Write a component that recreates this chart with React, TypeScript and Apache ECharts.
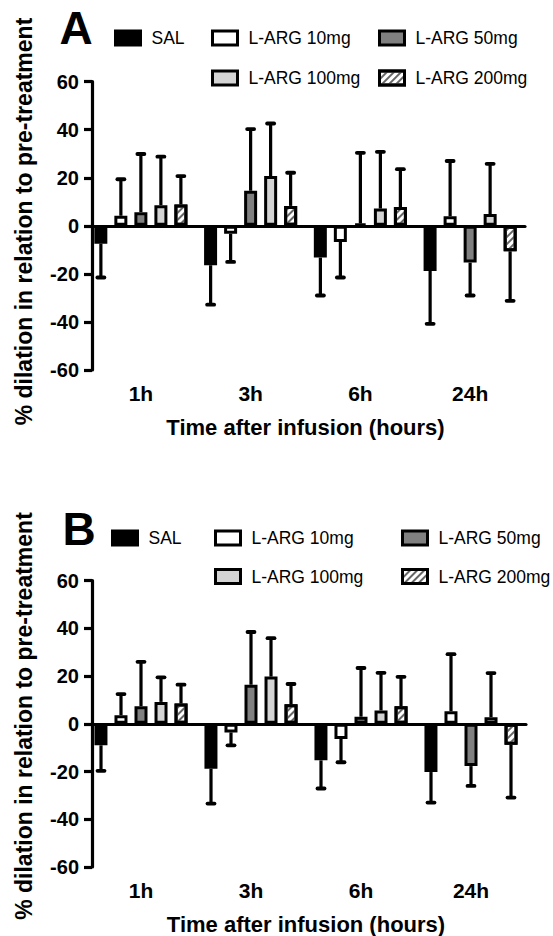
import React, { useEffect, useRef } from "react";
import * as echarts from "echarts";

const categories = ["1h", "3h", "6h", "24h"];
const seriesNames = ["SAL", "L-ARG 10mg", "L-ARG 50mg", "L-ARG 100mg", "L-ARG 200mg"];
const yTicks = [-60, -40, -20, 0, 20, 40, 60];

// Panel A means and SD (error drawn away from zero)
const meanA_SAL = [-7.4, -16.4, -13.2, -18.8];
const meanA_10 = [4.2, -3.3, -6.7, 4.0];
const meanA_50 = [5.7, 14.6, 1.0, -15.3];
const meanA_100 = [8.6, 20.7, 7.2, 4.9];
const meanA_200 = [8.9, 8.3, 7.8, -10.6];
const sdA_SAL = [14.1, 16.4, 15.8, 22.0];
const sdA_10 = [15.2, 11.7, 14.8, 23.0];
const sdA_50 = [24.2, 25.7, 29.4, 13.7];
const sdA_100 = [20.2, 21.9, 23.6, 20.9];
const sdA_200 = [11.8, 13.8, 15.8, 20.6];

// Panel B
const meanB_SAL = [-9.0, -18.8, -15.3, -20.2];
const meanB_10 = [3.6, -3.6, -6.3, 5.3];
const meanB_50 = [7.4, 16.4, 3.0, -17.7];
const meanB_100 = [9.2, 19.8, 5.6, 2.8];
const meanB_200 = [8.5, 8.2, 7.4, -8.8];
const sdB_SAL = [10.7, 14.6, 11.8, 12.8];
const sdB_10 = [8.9, 5.4, 9.8, 23.9];
const sdB_50 = [18.6, 22.1, 20.4, 8.3];
const sdB_100 = [10.3, 16.1, 15.8, 18.5];
const sdB_200 = [7.9, 8.5, 12.3, 22.1];

const meansA = [meanA_SAL, meanA_10, meanA_50, meanA_100, meanA_200];
const sdsA = [sdA_SAL, sdA_10, sdA_50, sdA_100, sdA_200];
const meansB = [meanB_SAL, meanB_10, meanB_50, meanB_100, meanB_200];
const sdsB = [sdB_SAL, sdB_10, sdB_50, sdB_100, sdB_200];

const FONT = "'Liberation Sans', Arial, Helvetica, sans-serif";
const BAR_W = 13;
const PITCH = 20;
const CAP = 3.5;

const hatch = {
  symbol: "rect",
  symbolSize: 1,
  color: "#666",
  dashArrayX: [1, 0],
  dashArrayY: [1.5, 2.5],
  rotation: -Math.PI / 4,
};

const styles: any[] = [
  { color: "#000" },
  { color: "#fff" },
  { color: "#808080" },
  { color: "#d4d4d4" },
  { color: "#fff", decal: hatch },
];

function makeAxes(gridIndex: number) {
  const x = {
    type: "category",
    gridIndex,
    data: categories,
    axisLine: { lineStyle: { color: "#000", width: 3.2 } },
    axisTick: { alignWithLabel: true, length: 8, lineStyle: { color: "#000", width: 3.2 } },
    axisLabel: { color: "#000", fontFamily: FONT, fontWeight: "bold", fontSize: 21, margin: 13 },
    name: "Time after infusion (hours)",
    nameLocation: "middle",
    nameGap: 46,
    nameTextStyle: { color: "#000", fontFamily: FONT, fontWeight: "bold", fontSize: 22 },
  };
  const y = {
    type: "value",
    gridIndex,
    min: yTicks[0],
    max: yTicks[yTicks.length - 1],
    interval: 20,
    offset: -6,
    splitLine: { show: false },
    axisLine: { show: true, lineStyle: { color: "#000", width: 3.2 } },
    axisTick: { show: true, length: 8, lineStyle: { color: "#000", width: 3.2 } },
    axisLabel: { color: "#000", fontFamily: FONT, fontWeight: "bold", fontSize: 20, margin: 13 },
  };
  return { x, y };
}

function makeSeries(axisIndex: number, means: number[][], sds: number[][]) {
  const out: any[] = [];
  means.forEach((m, i) => {
    const s: any = {
      type: "bar",
      name: seriesNames[i],
      xAxisIndex: axisIndex,
      yAxisIndex: axisIndex,
      data: m,
      barWidth: BAR_W,
      barGap: "54%",
      itemStyle: { ...styles[i], borderColor: "#000", borderWidth: 3 },
      emphasis: { disabled: true },
      z: 3,
    };
    if (i === 0) {
      s.markLine = {
        silent: true,
        symbol: "none",
        label: { show: false },
        lineStyle: { color: "#000", width: 3.2, type: "solid" },
        data: [{ yAxis: 0 }],
        z: 5,
      };
    }
    out.push(s);
  });
  const errData: number[][] = [];
  means.forEach((m, i) => {
    m.forEach((v, c) => errData.push([c, i, v, sds[i][c]]));
  });
  out.push({
    type: "custom",
    name: "err" + axisIndex,
    xAxisIndex: axisIndex,
    yAxisIndex: axisIndex,
    data: errData,
    encode: { x: 0, y: 2 },
    clip: false,
    z: 2,
    silent: true,
    renderItem: (params: any, api: any) => {
      const cat = api.value(0);
      const si = api.value(1);
      const mv = api.value(2);
      const sd = api.value(3);
      const end = mv >= 0 ? mv + sd : mv - sd;
      const p0 = api.coord([cat, mv]);
      const p1 = api.coord([cat, end]);
      const x = p0[0] + (si - 2) * PITCH;
      return {
        type: "group",
        children: [
          { type: "line", shape: { x1: x, y1: p0[1], x2: x, y2: p1[1] }, style: { stroke: "#000", lineWidth: 3.2 } },
          {
            type: "line",
            shape: { x1: x - CAP, y1: p1[1], x2: x + CAP, y2: p1[1] },
            style: { stroke: "#000", lineWidth: 3.8, lineCap: "round" },
          },
        ],
      };
    },
  });
  return out;
}

function legendItem(name: string, left: number, top: number) {
  return {
    data: [name],
    left,
    top,
    padding: 0,
    icon: "rect",
    itemWidth: 25,
    itemHeight: 14,
    itemStyle: { borderColor: "#000", borderWidth: 3 },
    textStyle: { color: "#000", fontFamily: FONT, fontSize: 17.5, lineHeight: 20, padding: [0, 0, 0, 6] },
    selectedMode: false,
  };
}

export default function App() {
  const ref = useRef<HTMLDivElement>(null);
  useEffect(() => {
    document.body.style.margin = "0";
    const chart = echarts.init(ref.current!, undefined, { renderer: "svg" });
    const a = makeAxes(0);
    const b = makeAxes(1);
    const option: any = {
      animation: false,
      backgroundColor: "#fff",
      grid: [
        { left: 86, right: 28, top: 81.7, height: 288.3 },
        { left: 86, right: 27, top: 580.7, height: 287.5 },
      ],
      xAxis: [a.x, b.x],
      yAxis: [a.y, b.y],
      legend: [
        legendItem("SAL", 114, 28),
        legendItem("L-ARG 10mg", 211, 28),
        legendItem("L-ARG 50mg", 378, 28),
        legendItem("L-ARG 100mg", 211, 68),
        legendItem("L-ARG 200mg", 378, 68),
        legendItem("SAL", 111, 528),
        legendItem("L-ARG 10mg", 214, 528),
        legendItem("L-ARG 50mg", 401, 528),
        legendItem("L-ARG 100mg", 214, 566.5),
        legendItem("L-ARG 200mg", 401, 566.5),
      ],
      series: [...makeSeries(0, meansA, sdsA), ...makeSeries(1, meansB, sdsB)],
      graphic: [
        {
          type: "text",
          x: 76,
          y: 28,
          style: { text: "A", font: `bold 46px ${FONT}`, fill: "#000", textAlign: "center", textVerticalAlign: "middle" },
        },
        {
          type: "text",
          x: 79,
          y: 529,
          style: { text: "B", font: `bold 46px ${FONT}`, fill: "#000", textAlign: "center", textVerticalAlign: "middle" },
        },
        {
          type: "text",
          x: 24,
          y: 221.5,
          rotation: Math.PI / 2,
          style: {
            text: "% dilation in relation to pre-treatment",
            font: `bold 23px ${FONT}`,
            fill: "#000",
            textAlign: "center",
            textVerticalAlign: "middle",
          },
        },
        {
          type: "text",
          x: 24,
          y: 716,
          rotation: Math.PI / 2,
          style: {
            text: "% dilation in relation to pre-treatment",
            font: `bold 23px ${FONT}`,
            fill: "#000",
            textAlign: "center",
            textVerticalAlign: "middle",
          },
        },
      ],
    };
    chart.setOption(option);
    return () => chart.dispose();
  }, []);
  return <div ref={ref} style={{ width: 553, height: 936 }} />;
}
